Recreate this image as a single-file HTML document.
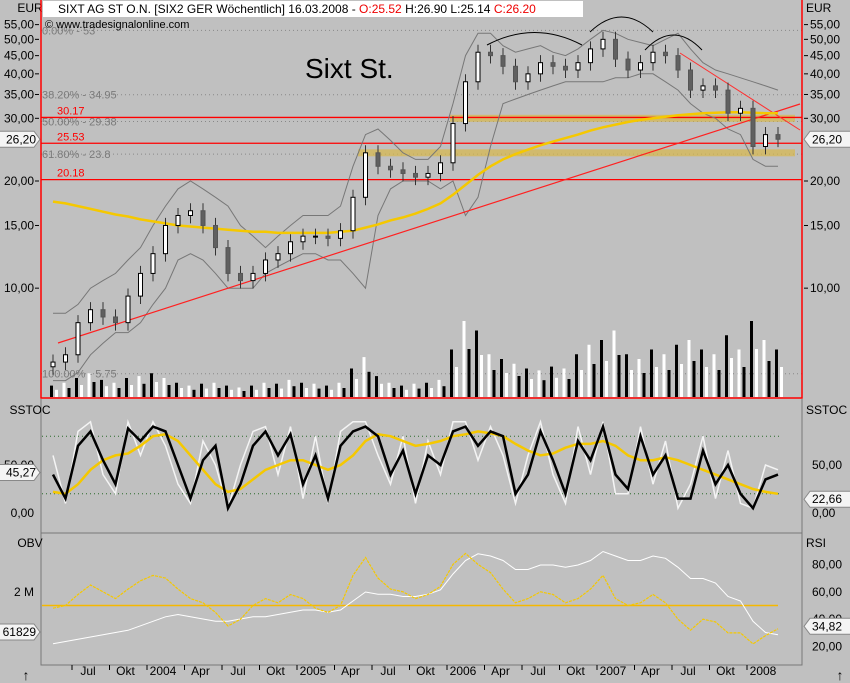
<!DOCTYPE html>
<html><head><meta charset="utf-8"><style>
html,body{margin:0;padding:0;background:#c0c0c0;}
svg{display:block;font-family:"Liberation Sans",sans-serif;}
</style></head><body>
<svg id="c" width="850" height="683" viewBox="0 0 850 683" xmlns="http://www.w3.org/2000/svg">
<rect x="0" y="0" width="850" height="683" fill="#c0c0c0"/>
<g id="main"></g>
<g id="stoc"></g>
<g id="obv"></g>
<g id="axes"></g>
</svg>
<script>
const months = ["2003-05","2003-06","2003-07","2003-08","2003-09","2003-10","2003-11","2003-12",
"2004-01","2004-02","2004-03","2004-04","2004-05","2004-06","2004-07","2004-08","2004-09","2004-10","2004-11","2004-12",
"2005-01","2005-02","2005-03","2005-04","2005-05","2005-06","2005-07","2005-08","2005-09","2005-10","2005-11","2005-12",
"2006-01","2006-02","2006-03","2006-04","2006-05","2006-06","2006-07","2006-08","2006-09","2006-10","2006-11","2006-12",
"2007-01","2007-02","2007-03","2007-04","2007-05","2007-06","2007-07","2007-08","2007-09","2007-10","2007-11","2007-12",
"2008-01","2008-02","2008-03"];
const closes = [6.2,6.5,8.0,8.7,8.3,8.0,9.5,11.0, 12.5,15,16,16.5,15,13,11,10.5,11,12,12.5,13.5, 14,14,13.8,14.5,18,24,22,21.5,21,20.5,21,22.5, 29,38,46,45,42,38,40,43,42,41,43,47, 50,44,41,43,46,45,41,36,37,36,31,32, 25,27,26.2];
const sma = [17.5,17.3,17,16.7,16.4,16.1,15.9,15.6,15.4,15.2,15,14.9,14.8,14.7,14.6,14.5,14.4,14.4,14.3,14.3,14.3,14.3,14.3,14.4,14.5,14.8,15.1,15.5,15.8,16.2,16.7,17.3,18.3,19.5,20.8,22,23,23.8,24.5,25.2,25.8,26.4,27,27.7,28.3,28.8,29.3,29.7,30,30.3,30.6,30.8,31,31.1,31.2,31.2,31.1,31,31];
const bbUpper = [8.5,8.5,9,10,10.5,11,12,13,15,17,19,20,19,18,17,15,14,13,14,15,16,16,16,17,22,27,28,26,24,23,23,25,33,45,52,52,48,46,47,48,46,45,47,50,53,52,50,49,48,50,52,47,43,41,40,39,38,37,36];
const bbLower = [5.5,5.5,5.8,6.5,7,7.5,7.5,8,9,10,12,12.5,12,11,10,10,10,11,11.5,12,12.5,12.5,12,12,11,10,16,19,20,20,20,19,20,16,18,25,33,34,35,36,37,38,38,38,38,39,39,40,40,38,36,33,31,30,28,27,23,22,22];
const volume = [12,15,20,25,18,15,20,22,25,20,15,12,14,15,12,10,12,15,14,18,15,14,12,15,30,42,22,15,12,14,15,18,50,80,70,45,40,35,30,28,32,30,45,55,60,70,45,40,50,45,55,60,50,45,65,50,80,60,50];
const stocSlow = [40,15,70,85,55,30,88,75,90,85,50,15,55,70,5,30,70,85,60,82,30,60,15,70,85,90,80,40,65,20,60,50,85,90,70,85,80,20,40,85,55,20,75,55,90,40,25,80,40,60,15,15,65,30,50,20,5,35,40];
const stocFast = [60,10,85,95,40,20,95,60,95,70,30,10,75,50,5,50,85,90,40,90,15,80,10,85,95,95,60,30,80,10,75,40,95,95,55,90,60,10,60,95,40,10,90,40,95,20,20,90,30,75,5,30,80,15,65,10,5,50,45];
const stocSignal = [22,20,30,45,55,60,62,70,80,82,75,60,45,30,22,25,35,45,50,55,55,50,45,50,60,75,82,80,75,70,72,75,80,82,85,83,80,72,65,60,62,68,72,72,75,70,60,55,55,58,55,50,45,40,35,30,25,22,20];
const rsi = [48,50,58,65,60,55,62,68,72,70,62,55,52,45,35,40,50,55,52,58,55,48,45,50,72,85,70,62,60,55,58,64,80,88,80,74,62,52,55,60,58,52,55,62,72,55,50,52,58,52,40,32,40,38,30,30,22,28,33];
const obvM = [0.85,0.9,0.95,1.0,1.05,1.1,1.15,1.25,1.35,1.45,1.5,1.45,1.4,1.35,1.35,1.4,1.45,1.45,1.5,1.55,1.6,1.6,1.55,1.6,1.8,2.0,1.95,1.95,1.9,1.9,1.95,2.05,2.4,2.7,2.85,2.8,2.7,2.5,2.5,2.6,2.6,2.55,2.6,2.7,2.9,2.8,2.7,2.7,2.8,2.75,2.55,2.3,2.3,2.2,1.9,1.8,1.35,1.1,1.05];
const priceTicks = ["55,00","50,00","45,00","40,00","35,00","30,00","20,00","15,00","10,00"];
const priceTickVals = [55,50,45,40,35,30,20,15,10];
const fibLabels = ["0.00% - 53","38.20% - 34.95","50.00% - 29.38","61.80% - 23.8","100.00% - 5.75"];
const fibVals = [53,34.95,29.38,23.8,5.75];
const redLevels = [30.17,25.53,20.18];
const xLabels = ["Jul","Okt","2004","Apr","Jul","Okt","2005","Apr","Jul","Okt","2006","Apr","Jul","Okt","2007","Apr","Jul","Okt","2008"];
const xLabelMonth = [2,5,8,11,14,17,20,23,26,29,32,35,38,41,44,47,50,53,56];

const NS="http://www.w3.org/2000/svg";
function el(parent,tag,attrs,text){const e=document.createElementNS(NS,tag);for(const k in attrs)e.setAttribute(k,attrs[k]);if(text!==undefined)e.textContent=text;parent.appendChild(e);return e;}
const xm = i => 47 + i*12.5;
const xc = i => xm(i)+6;
const py = v => 181 - 154.6*Math.log(v/20);
const sy = v => 513 - v*0.96;
const ry = v => 674 - v*1.37;
const oy = v => 592 - (v-2)*45;
function poly(g,vals,fx,fy,attrs,name){const pts=vals.map((v,i)=>fx(i).toFixed(1)+","+fy(v).toFixed(1)).join(" ");const p=el(g,"polyline",Object.assign({points:pts,fill:"none"},attrs));return p;}

const main=document.getElementById('main');
const defs=el(document.getElementById('c'),"defs",{});
const cp=el(defs,"clipPath",{id:"cm"});el(cp,"rect",{x:41,y:0,width:761,height:398});
main.setAttribute("clip-path","url(#cm)");
fibVals.forEach((v,i)=>{const l=el(main,"line",{x1:41,x2:802,y1:py(v),y2:py(v),stroke:"#888",'stroke-dasharray':"1,3"});
const t=el(main,"text",{x:42,y:py(v)+4,'font-size':11,fill:"#7a7a7a"},fibLabels[i]);});
[[30,450],[24,358]].forEach(z=>{const r=el(main,"rect",{x:z[1],y:py(z[0])-3.5,width:795-z[1],height:7,fill:"#d8b84a",opacity:0.7});});
redLevels.forEach(v=>{const l=el(main,"line",{x1:41,x2:802,y1:py(v),y2:py(v),stroke:"#ff0000",'stroke-width':1.3});
const t=el(main,"text",{x:57,y:py(v)-3,'font-size':11,fill:"#ff0000"},v.toFixed(2));});
volume.forEach((v,i)=>{const r=el(main,"rect",{x:xc(i)-3,y:397-v*0.95,width:3,height:v*0.95,fill:i%2?"#fff":"#000"});
const r2=el(main,"rect",{x:xc(i)+2,y:397-v*0.6,width:3,height:v*0.6,fill:i%2?"#000":"#fff"});});
poly(main,bbUpper,xc,py,{stroke:"#777",'stroke-width':1},'bollinger-upper');
poly(main,bbLower,xc,py,{stroke:"#777",'stroke-width':1},'bollinger-lower');
let tl=el(main,"line",{x1:58,y1:343,x2:800,y2:104,stroke:"#ff2020",'stroke-width':1.2});
tl=el(main,"line",{x1:680,y1:53,x2:800,y2:130,stroke:"#ff3030",'stroke-width':1});
poly(main,sma,xc,py,{stroke:"#f5c800",'stroke-width':2.5},'sma-line');
closes.forEach((c,i)=>{const o=i?closes[i-1]:c*0.97;const hi=Math.max(o,c)*1.05,lo=Math.min(o,c)*0.95;
const w=el(main,"line",{x1:xc(i),x2:xc(i),y1:py(hi),y2:py(lo),stroke:"#333"});
const up=c>=o;const b=el(main,"rect",{x:xc(i)-2,y:py(Math.max(o,c)),width:4,height:Math.max(1,py(Math.min(o,c))-py(Math.max(o,c))),fill:up?"#fff":"#606060",stroke:up?"#000":"#555"});});
[[487,32,582,45],[590,14,653,32],[645,32,702,50]].forEach(a=>{const p=el(main,"path",{d:`M${a[0]},${a[3]} Q${(a[0]+a[2])/2},${a[1]-12} ${a[2]},${a[3]}`,fill:"none",stroke:"#000"});});
let t=el(document.getElementById('c'),"text",{x:305,y:78,'font-size':28,fill:"#000"},"Sixt St.");
const hb=el(document.getElementById('c'),"rect",{x:43,y:1,width:540,height:16,fill:"#fff"});
t=el(document.getElementById('c'),"text",{x:58,y:13,'font-size':12,fill:"#000"});
t.innerHTML='SIXT AG ST O.N. [SIX2 GER  Wöchentlich] 16.03.2008 - <tspan fill="#e00">O:25.52</tspan> H:26.90 L:25.14 <tspan fill="#e00">C:26.20</tspan>';
t=el(document.getElementById('c'),"text",{x:45,y:28,'font-size':11,fill:"#000"},"© www.tradesignalonline.com");
let b=el(document.getElementById('c'),"path",{d:"M41,0 V398 H802 V0",fill:"none",stroke:"#ff0000",'stroke-width':1.5});

const st=document.getElementById('stoc');
[80,20].forEach(v=>{const l=el(st,"line",{x1:42,x2:780,y1:sy(v),y2:sy(v),stroke:"#2a6a2a",'stroke-dasharray':"1,3"});});
poly(st,stocFast,xc,sy,{stroke:"#f4f4f4",'stroke-width':1.5},'stoc-fast-line');
poly(st,stocSignal,xc,sy,{stroke:"#f5c800",'stroke-width':2.5},'stoc-signal-line');
poly(st,stocSlow,xc,sy,{stroke:"#000",'stroke-width':2.5},'stoc-slow-line');
b=el(st,"path",{d:"M41,399 V533 H802 V399",fill:"none",stroke:"#777"});
const ob=document.getElementById('obv');
let l=el(ob,"line",{x1:42,x2:778,y1:ry(50),y2:ry(50),stroke:"#f5b800",'stroke-width':1.5});
poly(ob,obvM,xc,oy,{stroke:"#fff",'stroke-width':1},'obv-line');
poly(ob,rsi,xc,ry,{stroke:"#f5c800",'stroke-width':1.2,'stroke-dasharray':"3,1"},'rsi-line');
b=el(ob,"path",{d:"M41,533 V665 H802 V533",fill:"none",stroke:"#777"});

const ax=document.getElementById('axes');
function txt(x,y,s,anchor,name,size,fill){const e=el(ax,"text",{x:x,y:y,'font-size':size||12,'text-anchor':anchor||'start',fill:fill||'#000'},s);return e;}
txt(30,12,"EUR","middle","y-axis-unit-left");txt(806,12,"EUR","start","y-axis-unit-right");
priceTickVals.forEach((v,i)=>{txt(34,py(v)+4,priceTicks[i],"end","price-tick-left");txt(810,py(v)+4,priceTicks[i],"start","price-tick-right");
el(ax,"line",{x1:35,x2:39,y1:py(v),y2:py(v),stroke:"#000"});el(ax,"line",{x1:804,x2:808,y1:py(v),y2:py(v),stroke:"#000"});});
function tag(x,y,w,s,name,right){const g=el(ax,"g",{});
const d=right?`M${x},${y} l6,-8 h${w} v16 h-${w} z`:`M${x},${y} l-6,-8 h-${w} v16 h${w} z`;
el(g,"path",{d:d,fill:"#f4f4f4",stroke:"#888"});el(g,"text",{x:right?x+8:x-4,y:y+4,'font-size':12,'text-anchor':right?'start':'end'},s);}
tag(40,py(26.2),40,"26,20","last-price-tag-left",false);tag(804,py(26.2),44,"26,20","last-price-tag-right",true);
txt(30,414,"SSTOC","middle","sstoc-label-left");txt(806,414,"SSTOC","start","sstoc-label-right");
[[50,"50,00"],[0,"0,00"]].forEach(a=>{txt(34,sy(a[0])+4,a[1],"end","stoc-tick-left");txt(812,sy(a[0])+4,a[1],"start","stoc-tick-right");});
tag(40,sy(45.27)+3,40,"45,27","stoc-tag-left",false);
tag(804,sy(22.66)+8,44,"22,66","stoc-tag-right",true);
txt(30,547,"OBV","middle","obv-label");txt(806,547,"RSI","start","rsi-label");
txt(34,596,"2 M","end","obv-tick");
[[80,"80,00"],[60,"60,00"],[40,"40,00"],[20,"20,00"]].forEach(a=>txt(812,ry(a[0])+4,a[1],"start","rsi-tick"));
tag(40,632,40,"61829","obv-tag",false);tag(804,ry(34.82),44,"34,82","rsi-tag",true);
xLabelMonth.forEach((m,i)=>{el(ax,"line",{x1:xm(m),x2:xm(m),y1:665,y2:670,stroke:"#000"});txt(xm(m)+16,675,xLabels[i],"middle","x-tick-label");});
txt(26,680,"↑","middle","scroll-arrow-left",14);txt(840,680,"↑","middle","scroll-arrow-right",14);
</script>
</body></html>
